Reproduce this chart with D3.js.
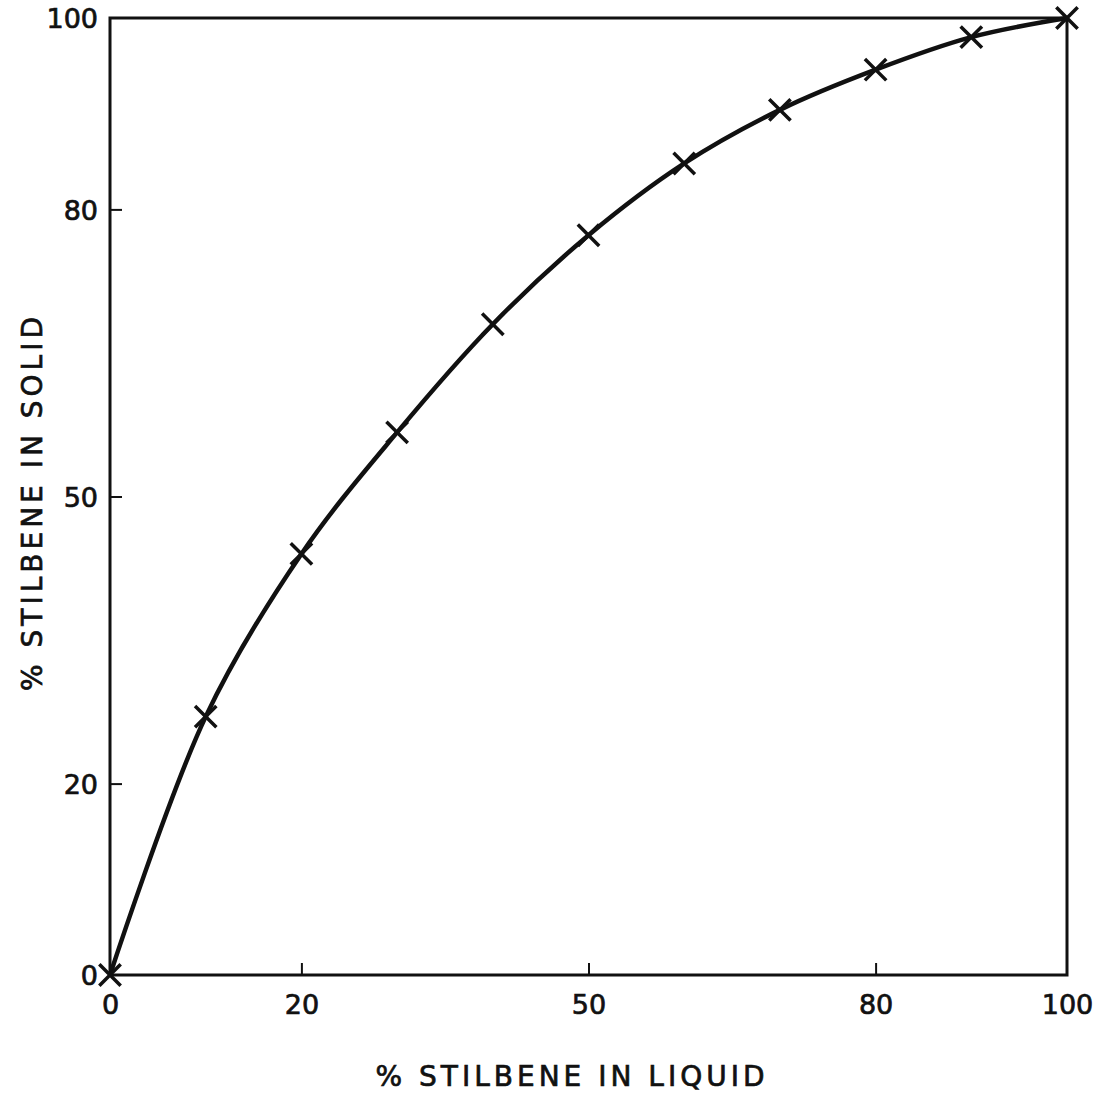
<!DOCTYPE html>
<html>
<head>
<meta charset="utf-8">
<script src="https://cdn.jsdelivr.net/npm/d3@7"></script>
<style>
  body { margin: 0; background: #fff; }
  text { font-family: "DejaVu Sans", "Liberation Sans", sans-serif; fill: #111; }
</style>
</head>
<body>
<div class="canvas"></div>
<script>
// data
const liquidPct = [0, 10, 20, 30, 40, 50, 60, 70, 80, 90, 100]
const solidPct = [0, 27, 44, 56.7, 68, 77.3, 84.8, 90.4, 94.6, 98, 100]
const tickValues = [0, 20, 50, 80, 100]
const xTitle = '% STILBENE IN LIQUID'
const yTitle = '% STILBENE IN SOLID'

// graph setup
const dims = { width: 1094, height: 1096 }
const margins = { top: 18, right: 27, bottom: 121, left: 110 }
const innerW = dims.width - margins.left - margins.right
const innerH = dims.height - margins.top - margins.bottom

const svg = d3.select('.canvas')
  .append('svg')
  .attr('width', dims.width)
  .attr('height', dims.height)

const graph = svg.append('g')
  .attr('transform', `translate(${margins.left},${margins.top})`)

// scales
const x = d3.scaleLinear().domain([0, 100]).range([0, innerW])
const y = d3.scaleLinear().domain([0, 100]).range([innerH, 0])

// frame
graph.append('rect')
  .attr('width', innerW)
  .attr('height', innerH)
  .attr('fill', 'none')
  .attr('stroke', '#111')
  .attr('stroke-width', 3)

// axes with inward ticks
const xAxis = d3.axisBottom(x).tickValues(tickValues).tickSize(-12).tickPadding(20)
const yAxis = d3.axisLeft(y).tickValues(tickValues).tickSize(-12).tickPadding(12)

const gx = graph.append('g')
  .attr('transform', `translate(0,${innerH})`)
  .call(xAxis)
const gy = graph.append('g').call(yAxis)

;[gx, gy].forEach(g => {
  g.attr('font-size', null).attr('font-family', null)
  g.select('.domain').remove()
  g.selectAll('.tick line')
    .attr('stroke', '#111')
    .attr('stroke-width', 2)
  g.selectAll('.tick text')
    .style('font-size', '27px')
    .attr('fill', '#111')
    .attr('stroke', '#111')
    .attr('stroke-width', 0.7)
})
// corner ticks sit on the frame
gx.selectAll('.tick').filter(d => d === 0 || d === 100).select('line').remove()
gy.selectAll('.tick').filter(d => d === 0 || d === 100).select('line').remove()
gx.selectAll('.tick text').attr('dy', '0.71em')
gy.selectAll('.tick text').attr('dy', '0.36em')

// curve
const points = liquidPct.map((v, i) => ({ x: v, y: solidPct[i] }))
const line = d3.line()
  .x(d => x(d.x))
  .y(d => y(d.y))
  .curve(d3.curveCatmullRom.alpha(0.5))

graph.append('path')
  .datum(points)
  .attr('fill', 'none')
  .attr('stroke', '#111')
  .attr('stroke-width', 4.5)
  .attr('d', line)

// x markers
const cross = d3.symbol().type(d3.symbolX).size(300)
graph.selectAll('.mark')
  .data(points)
  .enter()
  .append('path')
  .attr('class', 'mark')
  .attr('transform', d => `translate(${x(d.x)},${y(d.y)})`)
  .attr('d', cross)
  .attr('fill', 'none')
  .attr('stroke', '#111')
  .attr('stroke-width', 3.5)

// axis titles
svg.append('text')
  .attr('x', 572)
  .attr('y', 1086)
  .attr('text-anchor', 'middle')
  .attr('stroke', '#111')
  .attr('stroke-width', 0.7)
  .style('font-size', '28px')
  .style('letter-spacing', '4px')
  .text(xTitle)

svg.append('text')
  .attr('transform', `translate(42,502) rotate(-90)`)
  .attr('text-anchor', 'middle')
  .attr('stroke', '#111')
  .attr('stroke-width', 0.7)
  .style('font-size', '28px')
  .style('letter-spacing', '4px')
  .text(yTitle)
</script>
</body>
</html>
